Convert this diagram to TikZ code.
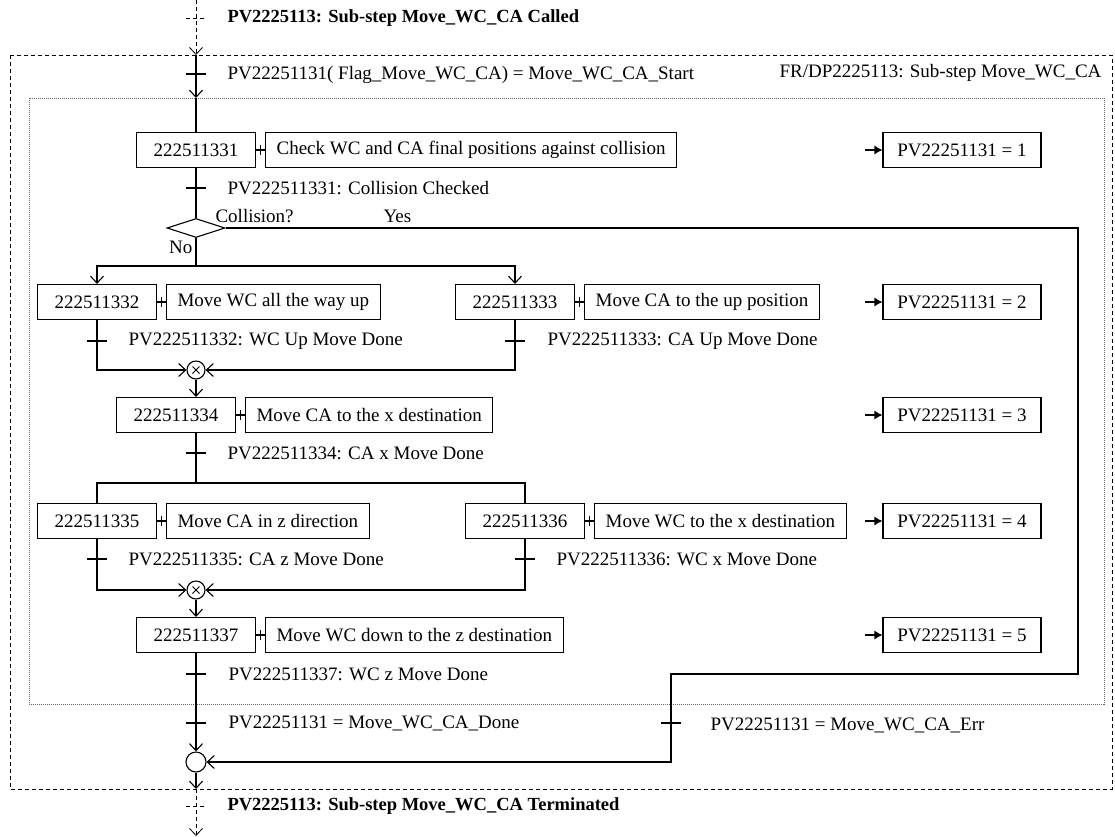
\documentclass[tikz,border=0pt]{standalone}
\usepackage{fontspec}
\setmainfont{Liberation Serif}
\usetikzlibrary{arrows.meta,calc,positioning,shapes.geometric}

\begin{document}
\begin{tikzpicture}[ x=1pt, y=-1pt, line width=1.1pt,
    font=\fontsize{19}{22}\selectfont,
    >={Straight Barb[length=7pt,width=13pt]},
    idbox/.style={ draw, minimum width=119pt, minimum height=35pt,
      inner sep=0pt },
    taskbox/.style={ draw, minimum height=35pt, inner xsep=11pt,
      inner ysep=0pt },
    pvbox/.style={ draw, minimum width=158pt, minimum height=35pt,
      inner sep=0pt },
    joint/.style={ draw, circle, minimum size=18pt, inner sep=0pt },
    andjoint/.style={ joint, path picture={
        \draw[line width=0.8pt] ([shift={(-3.5pt,-3.5pt)}]path picture bounding box.center)
          -- ++(7pt,7pt) ++(-7pt,0) -- ++(7pt,-7pt); } },
    lbl/.style={ anchor=west, inner sep=0pt },
    flow/.style={ line width=0.8pt, dash pattern=on 4pt off 3pt },
    setto/.style={ -{Latex[length=8pt,width=9pt]} } ]
  \useasboundingbox (0,0) rectangle (1115,836);
  \draw[flow] (10,55) rectangle (1112,789);
  \draw[line width=0.6pt, black!60, dash pattern=on 1pt off 1pt]
    (29,98) rectangle (1104,704);

  % steps, their tasks and the flag values
  \foreach \n/\x/\y in {331/196/150,332/97/302,333/515/302,334/176/415,
    335/97/521,336/525/521,337/196/635}
  \node[idbox] (id\n) at (\x,\y) {222511\n};
  \foreach \n/\t in {331/Check WC and CA final positions against collision,
    332/Move WC all the way up,333/Move CA to the up position,
    334/Move CA to the x destination,335/Move CA in z direction,
    336/Move WC to the x destination,337/Move WC down to the z destination}
  {
    \node[taskbox,right=9pt of id\n] (task\n) {\t};
    \draw (id\n.east) -- (task\n.west)
      ($(id\n.east)!.5!(task\n.west)+(0,-5)$) -- +(0,10);
  }
  \foreach \v/\y in {1/150,2/302,3/415,4/521,5/635}
  {
    \node[pvbox] (pv\v) at (962,\y) {PV22251131 = \v};
    \coordinate (s\v) at ([xshift=-17pt]pv\v.west);
    \draw[setto] (s\v) -- (pv\v);
  }

  \node[draw,diamond,aspect=3,minimum width=58pt,minimum height=19pt,
    inner sep=0pt] (dec) at (196,228) {};
  \node[andjoint] (j1) at (196,370) {};
  \node[andjoint] (j2) at (196,590) {};
  \node[joint,minimum size=20pt] (fin) at (196,762) {};

  \coordinate (call) at (196,0);
  \coordinate (in) at (196,55);
  \coordinate (start) at (196,98);
  \coordinate (split1) at (196,266);
  \coordinate (split2) at (196,483);
  \coordinate (r1) at (1078,674);
  \coordinate (r2) at (671,762);
  \coordinate (out) at (196,789);
  \coordinate (term) at (196,836);

  \draw[flow,->] (call) -- (in);
  \draw[->] (in) -- (start);
  \draw (start) -- (id331);
  \draw (id331) -- (dec);
  \draw (dec.south) -- (split1);
  \draw[->] (split1) -| (id332.north);
  \draw[->] (split1) -| (id333.north);
  \draw[->] (id332.south) |- (j1.west);
  \draw[->] (id333.south) |- (j1.east);
  \draw[->] (j1) -- (j1 |- id334.north);
  \draw (id334.south -| j1) -- (split2);
  \draw (split2) -| (id335.north);
  \draw (split2) -| (id336.north);
  \draw[->] (id335.south) |- (j2.west);
  \draw[->] (id336.south) |- (j2.east);
  \draw[->] (j2) -- (id337);
  \draw[->] (id337) -- (fin);
  \draw[->] (dec.east) -| (r1) -| (r2) -- (fin.east);
  \draw[->] (fin) -- (out);
  \draw[flow,->] (out) -- (term);

  \foreach \x/\y in {196/74,196/188,97/341,515/341,196/453,97/559,525/559,
    196/674,196/723,671/723}
  \draw (\x-10,\y) -- (\x+10,\y);
  \foreach \y in {18,806}
  \draw[flow] (186,\y) -- (206,\y);

  \node[lbl,font=\fontsize{18.5}{22}\selectfont\bfseries] (called) at (227,18)
    {PV2225113: Sub-step Move\_WC\_CA Called};
  \node[lbl,font=\fontsize{18.5}{22}\selectfont\bfseries] (ended) at (227,806)
    {PV2225113: Sub-step Move\_WC\_CA Terminated};
  \node[lbl] (flag) at (227,75)
    {PV22251131( Flag\_Move\_WC\_CA) = Move\_WC\_CA\_Start};
  \node[anchor=east,inner sep=0pt] (sub) at (1102,73)
    {FR/DP2225113: Sub-step Move\_WC\_CA};
  \foreach \x/\y/\t in {227/188/PV222511331: Collision Checked,
    128/341/PV222511332: WC Up Move Done,547/341/PV222511333: CA Up Move Done,
    227/453/PV222511334: CA x Move Done,128/559/PV222511335: CA z Move Done,
    556/559/PV222511336: WC x Move Done,228/674/PV222511337: WC z Move Done,
    228/723/PV22251131 = Move\_WC\_CA\_Done,710/725/PV22251131 = Move\_WC\_CA\_Err}
  \node[lbl] at (\x,\y) {\t};
  \node[lbl] (ask) at (215,216) {Collision?};
  \node[lbl] (yes) at (383,216) {Yes};
  \node[anchor=east,inner sep=0pt] (no) at (193,247) {No};
\end{tikzpicture}
\end{document}
